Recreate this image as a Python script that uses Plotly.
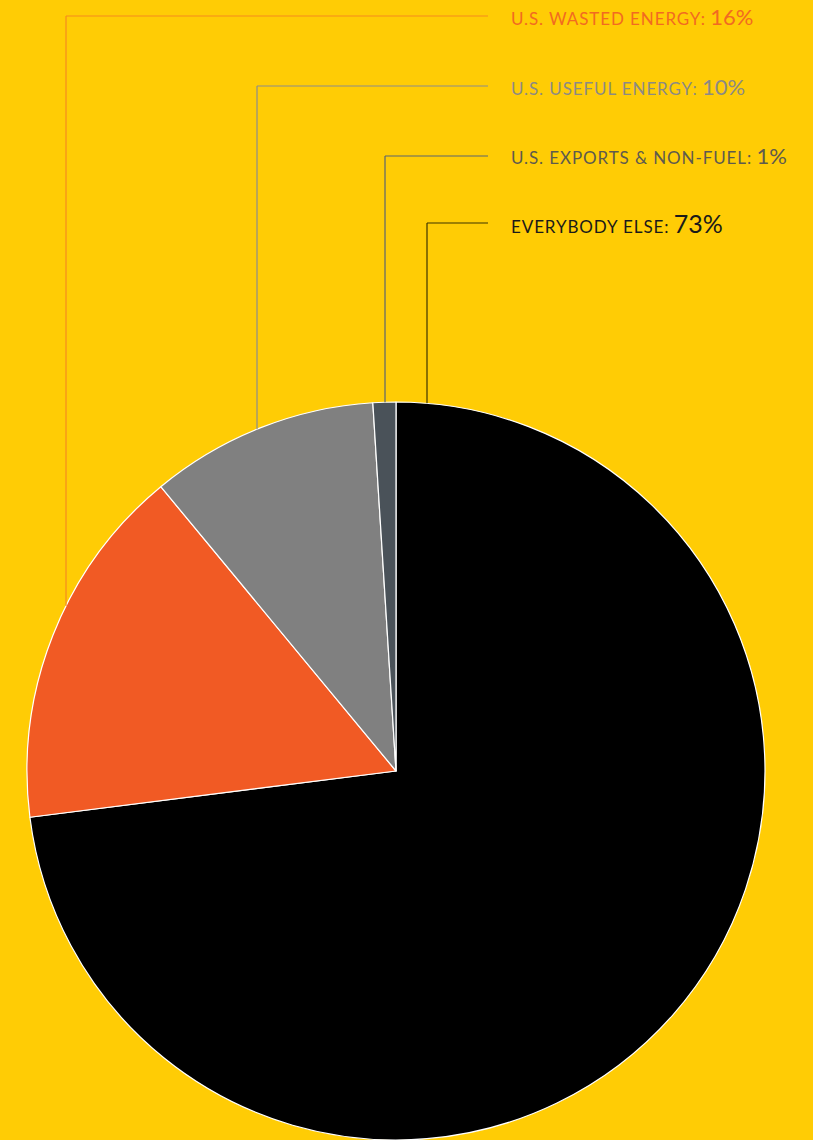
import math
import plotly.graph_objects as go

# ---- data ----
categories = ["Everybody else", "U.S. wasted energy", "U.S. useful energy", "U.S. exports & non-fuel"]
label_text = ["EVERYBODY ELSE", "U.S. WASTED ENERGY", "U.S. USEFUL ENERGY", "U.S. EXPORTS &amp; NON-FUEL"]
values = [73, 16, 10, 1]

# ---- styles ----
W, H = 813, 1140
bg = "#FFCC05"
slice_colors = ["#000000", "#F15A24", "#808080", "#4A5259"]
text_colors = ["#1A1A1A", "#F26A21", "#8C8A84", "#5E5A4E"]
line_colors = ["#3D3400", "#F58A1F", "#8C8C8C", "#5A6470"]
# label rows (pixel y from top) and leader x positions
label_y = [223, 16, 86, 156]
leader_x = [427, 66, 257, 385]
text_x = 509
line_end_x = 488
pct_size = [25, 22, 22, 22]

cx, cy, R = 396, 771, 369

fig = go.Figure(go.Pie(
    labels=categories,
    values=values,
    sort=False,
    direction="clockwise",
    rotation=0,
    marker=dict(colors=slice_colors, line=dict(color="#FFFFFF", width=1.2)),
    textinfo="none",
    hoverinfo="label+percent",
    showlegend=False,
    domain=dict(x=[(cx - R) / W, (cx + R) / W], y=[1 - (cy + R) / H, 1 - (cy - R) / H]),
))

shapes = []
annotations = []
for i in range(len(values)):
    ly = label_y[i]
    lx = leader_x[i]
    dx = lx - cx
    edge_y = cy - math.sqrt(max(R * R - dx * dx, 0))
    col = line_colors[i]
    shapes.append(dict(type="line", xref="paper", yref="paper",
                       x0=lx / W, x1=line_end_x / W, y0=1 - ly / H, y1=1 - ly / H,
                       line=dict(color=col, width=1.2)))
    shapes.append(dict(type="line", xref="paper", yref="paper",
                       x0=lx / W, x1=lx / W, y0=1 - ly / H, y1=1 - edge_y / H,
                       line=dict(color=col, width=1.2)))
    annotations.append(dict(
        xref="paper", yref="paper", x=text_x / W, y=1 - ly / H,
        xanchor="left", yanchor="middle", showarrow=False,
        text=(f"<span style='letter-spacing:0.9px'>{label_text[i]}:</span> "
              f"<span style='font-size:{pct_size[i]}px'>{values[i]}%</span>"),
        font=dict(family="Lato, 'Open Sans', sans-serif", size=17, color=text_colors[i]),
    ))

fig.update_layout(
    width=W, height=H,
    margin=dict(l=0, r=0, t=0, b=0),
    paper_bgcolor=bg, plot_bgcolor=bg,
    shapes=shapes, annotations=annotations,
)

fig.write_html("out.html")
